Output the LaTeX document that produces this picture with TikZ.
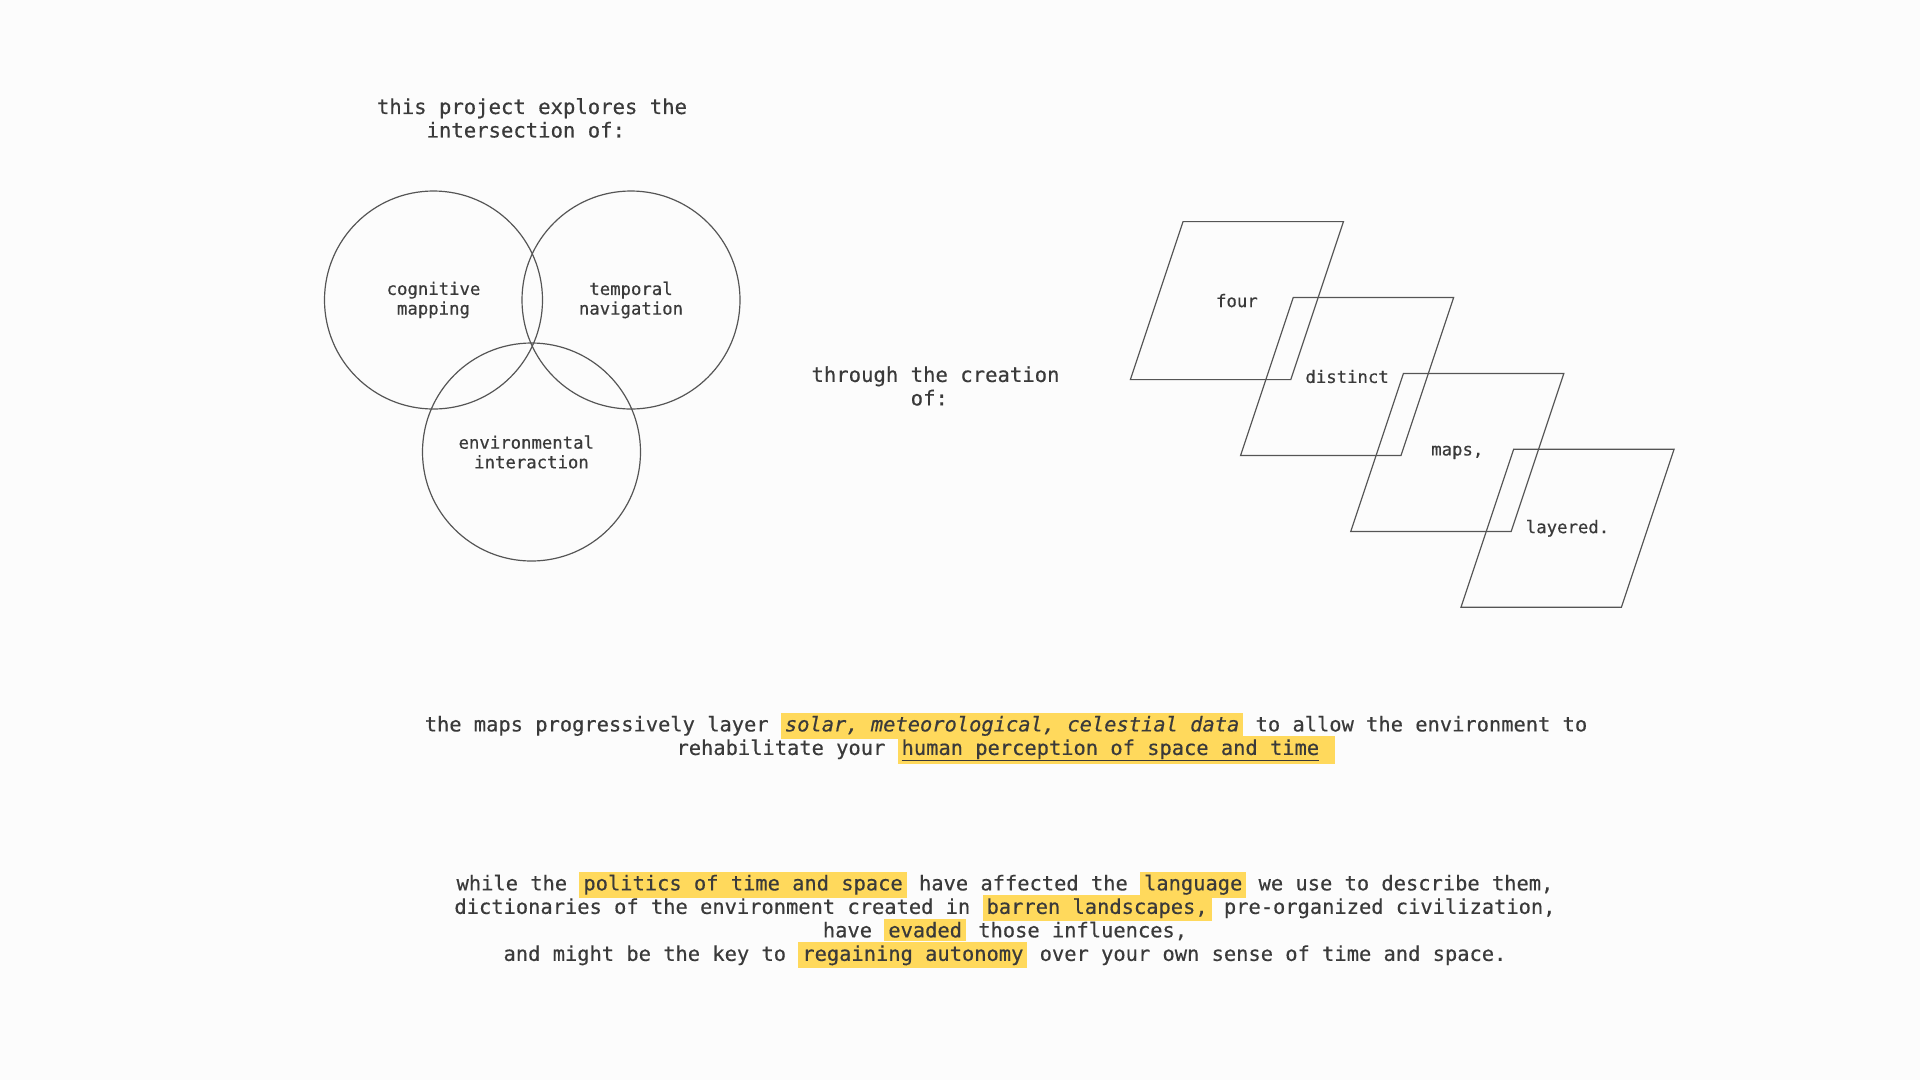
\documentclass[tikz,border=0pt]{standalone}
\usepackage{fontspec}
\setmainfont[FakeBold=0.45]{DejaVu Sans Mono}
\usepackage{xcolor}
\usepackage{tikz}
\definecolor{ink}{HTML}{3A3A3A}
\definecolor{rim}{HTML}{555555}
\definecolor{hlyellow}{HTML}{FFD95C}
\definecolor{paper}{HTML}{FCFCFC}
\newcommand{\hl}[1]{{\setlength{\fboxsep}{3pt}\colorbox{hlyellow}{\hspace{1pt}#1\hspace{1pt}}}}
\newcommand{\gap}{\phantom{x}}
\newcommand{\tightlines}{\lineskiplimit=-1000pt\relax\lineskip=0pt\relax}

\begin{document}
\begin{tikzpicture}[x=1pt,y=-1pt,
    every node/.style={text=ink},
    ring/.style={circle, draw=rim, line width=1.2pt, minimum size=218pt, inner sep=0pt,
      align=center, font=\fontsize{17.3}{19.6}\selectfont},
    maplabel/.style={font=\fontsize{17.3}{19.6}\selectfont},
    sheet/.style={draw=rim, line width=1.2pt},
    headtext/.style={align=center, font=\fontsize{20.6}{23.5}\selectfont},
    bodytext/.style={align=center, font=\fontsize{20.4}{23.5}\selectfont\tightlines}]
  \fill[paper] (0,0) rectangle (1920,1080);

  % venn
  \node[headtext] (T) at (532,118) {this project explores the\\intersection of:\gap};
  \node[ring] (cog) at (433.5,300) {cognitive\\mapping};
  \node[ring] (tmp) at (631,300) {temporal\\navigation};
  \node[ring] (env) at (531.5,452) {environmental\gap\\\gap interaction\gap};

  \node[headtext] (V) at (935.5,386) {through the creation\\of:\gap};

  % layered maps
  \node[maplabel] (M1) at (1236.9,300.6) {four};
  \node[maplabel] (M2) at (1347.1,376.5) {distinct};
  \node[maplabel] (M3) at (1457.3,452.4) {maps,};
  \node[maplabel] (M4) at (1567.5,528.3) {layered.};
  \draw[sheet] (M1.center) ++(-53.85,-79) -- ++(160.4,0) -- ++(-52.7,158) -- ++(-160.4,0) -- cycle;
  \draw[sheet] (M2.center) ++(-53.85,-79) -- ++(160.4,0) -- ++(-52.7,158) -- ++(-160.4,0) -- cycle;
  \draw[sheet] (M3.center) ++(-53.85,-79) -- ++(160.4,0) -- ++(-52.7,158) -- ++(-160.4,0) -- cycle;
  \draw[sheet] (M4.center) ++(-53.85,-79) -- ++(160.4,0) -- ++(-52.7,158) -- ++(-160.4,0) -- cycle;

  % text
  \node[bodytext] (P1) at (1006,738.5) {the maps progressively layer \hl{\textit{solar, meteorological, celestial data}} to allow the environment to\\
    rehabilitate your \hl{\underline{human perception of space and time}\ }};
  \node[bodytext] (P2) at (1005,920) {while the \hl{politics of time and space} have affected the \hl{language} we use to describe them,\\
    dictionaries of the environment created in \hl{barren landscapes,} pre-organized civilization,\\
    have \hl{evaded} those influences,\\
    and might be the key to \hl{regaining autonomy} over your own sense of time and space.};
\end{tikzpicture}
\end{document}
